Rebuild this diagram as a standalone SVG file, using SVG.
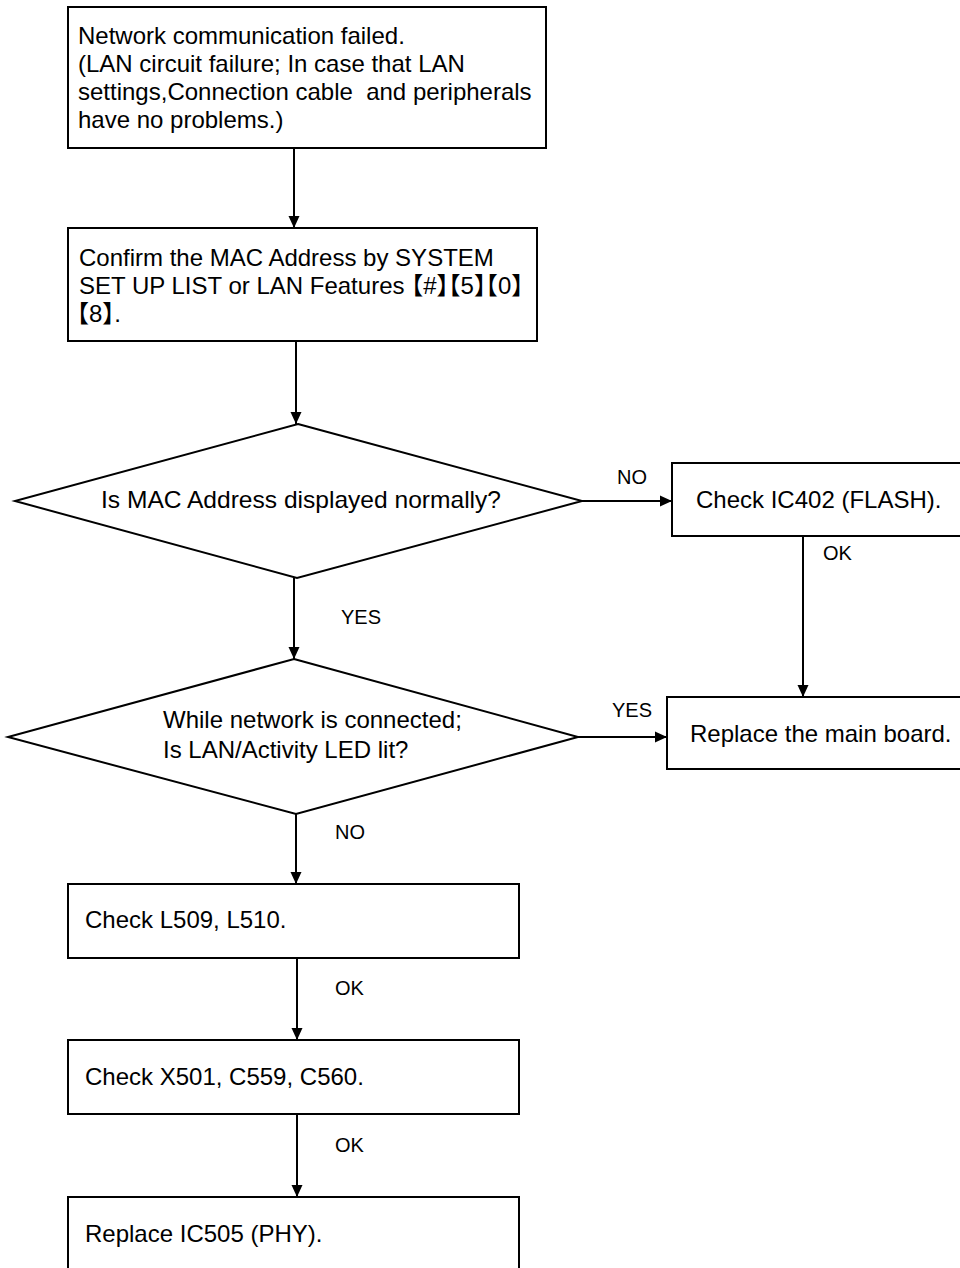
<svg xmlns="http://www.w3.org/2000/svg" width="960" height="1268" viewBox="0 0 960 1268">
<style>
.box{fill:#fff;stroke:#000;stroke-width:2}
.t{font-family:"Liberation Sans",Arial,sans-serif;font-size:24px;fill:#000}
.l{font-family:"Liberation Sans",Arial,sans-serif;font-size:20px;fill:#000}
.b{font-family:"Noto Sans CJK JP","Noto Sans CJK SC",sans-serif;font-feature-settings:"halt" 1}
.c{stroke:#000;stroke-width:2;fill:none;marker-end:url(#ah)}
</style>
<defs>
<marker id="ah" markerWidth="12" markerHeight="14" refX="12" refY="7" orient="auto" markerUnits="userSpaceOnUse">
<path d="M0,1.5 L12,7 L0,12.5 Z" fill="#000"/>
</marker>
</defs>
<rect width="960" height="1268" fill="#fff"/>
<g id="connectors">
<line class="c" x1="294" y1="148" x2="294" y2="228"/>
<line class="c" x1="296" y1="341" x2="296" y2="424"/>
<line class="c" x1="582" y1="501" x2="672" y2="501"/>
<line class="c" x1="803" y1="536" x2="803" y2="697"/>
<line class="c" x1="294" y1="578" x2="294" y2="659"/>
<line class="c" x1="578" y1="737" x2="667" y2="737"/>
<line class="c" x1="296" y1="814" x2="296" y2="884"/>
<line class="c" x1="297" y1="958" x2="297" y2="1040"/>
<line class="c" x1="297" y1="1114" x2="297" y2="1197"/>
<text class="l" x="617" y="484">NO</text>
<text class="l" x="823" y="560">OK</text>
<text class="l" x="341" y="624">YES</text>
<text class="l" x="612" y="717">YES</text>
<text class="l" x="335" y="839">NO</text>
<text class="l" x="335" y="995">OK</text>
<text class="l" x="335" y="1152">OK</text>
</g>
<g id="start">
<rect class="box" x="68" y="7" width="478" height="141"/>
<text class="t" x="78" y="44">Network communication failed.</text>
<text class="t" x="78" y="72">(LAN circuit failure; In case that LAN</text>
<text class="t" x="78" y="100">settings,Connection cable&#160; and peripherals</text>
<text class="t" x="78" y="128">have no problems.)</text>
</g>
<g id="confirm">
<rect class="box" x="68" y="228" width="469" height="113"/>
<text class="t" x="79" y="266">Confirm the MAC Address by SYSTEM</text>
<text class="t" x="79" y="294">SET UP LIST or LAN Features <tspan class="b">【</tspan>#<tspan class="b">】【</tspan>5<tspan class="b">】【</tspan>0<tspan class="b">】</tspan></text>
<text class="t" x="77" y="322"><tspan class="b">【</tspan>8<tspan class="b">】</tspan>.</text>
</g>
<g id="decision1">
<polygon class="box" points="298,424 582,501 297,578 15,501"/>
<text class="t" x="301" y="508" text-anchor="middle" textLength="400" lengthAdjust="spacingAndGlyphs">Is MAC Address displayed normally?</text>
</g>
<g id="checkIC402">
<rect class="box" x="672" y="463" width="300" height="73"/>
<text class="t" x="696" y="508">Check IC402 (FLASH).</text>
</g>
<g id="decision2">
<polygon class="box" points="294,659 578,737 296,814 8,737"/>
<text class="t" x="163" y="728">While network is connected;</text>
<text class="t" x="163" y="758">Is LAN/Activity LED lit?</text>
</g>
<g id="replaceMain">
<rect class="box" x="667" y="697" width="305" height="72"/>
<text class="t" x="690" y="742">Replace the main board.</text>
</g>
<g id="checkL509">
<rect class="box" x="68" y="884" width="451" height="74"/>
<text class="t" x="85" y="928">Check L509, L510.</text>
</g>
<g id="checkX501">
<rect class="box" x="68" y="1040" width="451" height="74"/>
<text class="t" x="85" y="1085">Check X501, C559, C560.</text>
</g>
<g id="replaceIC505">
<rect class="box" x="68" y="1197" width="451" height="90"/>
<text class="t" x="85" y="1242">Replace IC505 (PHY).</text>
</g>
</svg>
